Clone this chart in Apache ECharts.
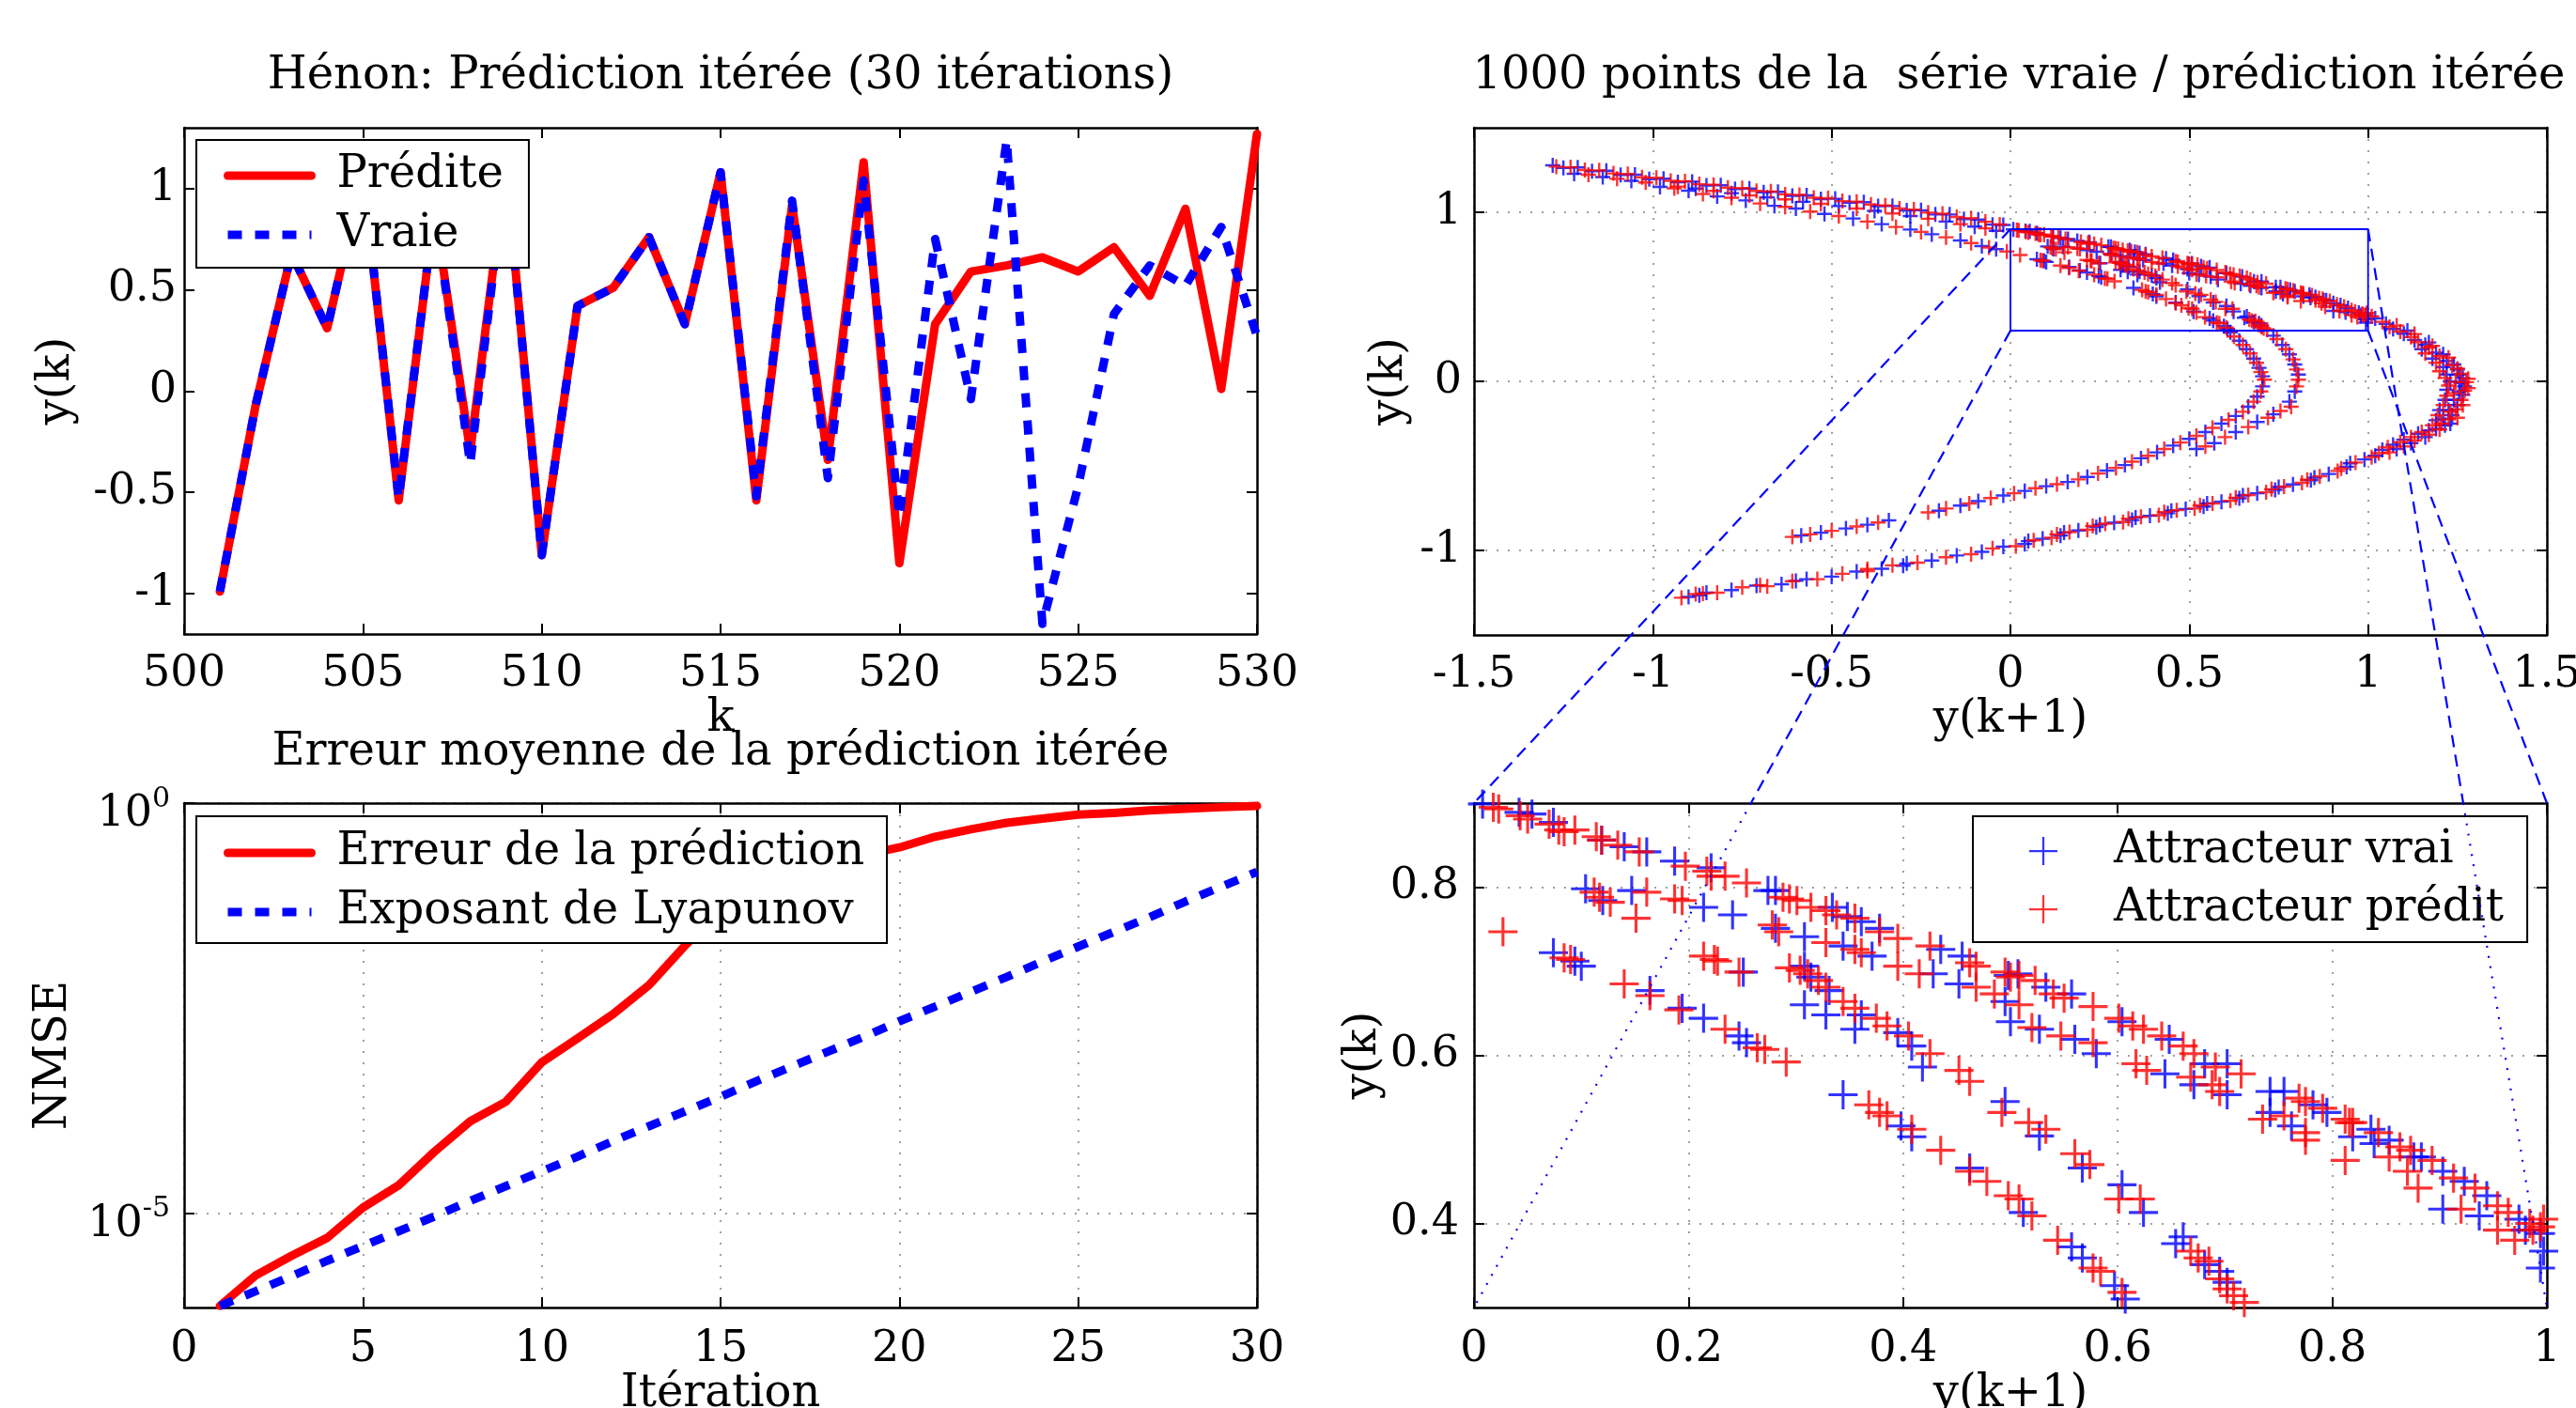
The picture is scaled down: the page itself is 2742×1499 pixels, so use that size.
<!DOCTYPE html>
<html><head><meta charset="utf-8">
<script src="https://cdn.jsdelivr.net/npm/echarts@6/dist/echarts.min.js"></script>
<style>html,body{margin:0;padding:0;background:#fff;overflow:hidden}#c{width:2742px;height:1499px}</style>
</head><body><div id="c"></div><script>
// ---------- data ----------
const kSteps = [501,502,503,504,505,506,507,508,509,510,511,512,513,514,515,516,517,518,519,520,521,522,523,524,525,526,527,528,529,530];
const yTrue = [-0.99,-0.07,0.68,0.31,1.08,-0.53,0.90,-0.36,1.10,-0.81,0.42,0.51,0.76,0.33,1.08,-0.52,0.94,-0.43,1.04,-0.62,0.75,-0.04,1.24,-1.15,-0.47,0.38,0.62,0.52,0.81,0.27];
const yPred = [-0.99,-0.07,0.68,0.31,1.08,-0.54,0.90,-0.30,1.11,-0.81,0.42,0.51,0.76,0.33,1.08,-0.54,0.92,-0.34,1.13,-0.85,0.33,0.59,0.62,0.66,0.59,0.71,0.47,0.90,0.01,1.27];
const tlYTicks = [-1,-0.5,0,0.5,1];

const iterations = [1,2,3,4,5,6,7,8,9,10,11,12,13,14,15,16,17,18,19,20,21,22,23,24,25,26,27,28,29,30];
const nmsePred = [7.4e-7,1.74e-6,3.02e-6,5.0e-6,1.17e-5,2.19e-5,5.62e-5,1.32e-4,2.29e-4,6.92e-4,1.35e-3,2.69e-3,6.03e-3,1.82e-2,5.0e-2,0.100,0.151,0.195,0.234,0.288,0.389,0.479,0.575,0.646,0.724,0.759,0.813,0.851,0.891,0.923];
const nmseLyap = [7.4e-7,1.12e-6,1.70e-6,2.63e-6,3.98e-6,6.03e-6,9.12e-6,1.41e-5,2.14e-5,3.24e-5,4.90e-5,7.59e-5,1.15e-4,1.74e-4,2.63e-4,4.07e-4,6.17e-4,9.33e-4,1.41e-3,2.19e-3,3.31e-3,5.01e-3,7.59e-3,1.17e-2,1.78e-2,2.69e-2,4.07e-2,6.31e-2,9.55e-2,0.145];
const nmseTickExps = [-5, 0];
const nmseMinExp = -6.15;

const attractorTrue = [
[-1.28,1.278],[-1.25,1.262],[-1.21,1.265],[-1.17,1.243],[-1.13,1.246],[-1.09,1.221],[-1.05,1.222],[-1.01,1.196],[-0.97,1.199],[-0.93,1.178],[-0.89,1.181],[-0.85,1.158],[-0.81,1.160],[-0.77,1.137],[-0.73,1.140],[-0.69,1.118],[-0.65,1.121],[-0.61,1.097],[-0.57,1.100],[-0.53,1.078],[-0.49,1.080],[-0.45,1.057],[-0.41,1.060],[-0.37,1.036],[-0.33,1.037],[-0.29,1.011],[-0.25,1.012],[-0.21,0.987],[-0.17,0.987],[-0.13,0.960],[-0.09,0.957],[-0.05,0.927],[-0.02,0.925],
[-1.22,1.228],[-1.14,1.208],[-1.06,1.186],[-0.88,1.140],[-0.78,1.113],[-0.68,1.088],[-0.58,1.062],[-0.48,1.037],[-0.38,1.008],[-0.28,0.978],[-0.18,0.945],[-0.10,0.915],[-0.04,0.890],
[-0.98,1.150],[-0.90,1.128],[-0.82,1.094],[-0.74,1.070],[-0.66,1.038],[-0.60,1.022],[-0.52,0.990],[-0.44,0.963],[-0.36,0.930],[-0.28,0.898],[-0.22,0.870],[-0.14,0.833],[-0.08,0.800],[-0.04,0.782],
[0.008,0.899],[0.042,0.889],[0.054,0.887],[0.074,0.877],[0.119,0.856],[0.140,0.848],[0.161,0.842],[0.187,0.831],[0.221,0.823],[0.274,0.796],[0.281,0.796],[0.334,0.776],[0.348,0.765],[0.361,0.759],[0.378,0.751],[0.435,0.726],[0.455,0.718],[0.498,0.695],[0.507,0.697],[0.533,0.681],[0.557,0.673],[0.604,0.640],[0.648,0.619],[0.681,0.590],[0.702,0.590],[0.742,0.557],[0.755,0.557],[0.782,0.541],[0.795,0.532],[0.836,0.512],[0.853,0.499],[0.883,0.479],[0.903,0.462],[0.923,0.450],[0.944,0.433],[0.974,0.405],[0.994,0.388],[0.997,0.367],[0.994,0.347],
[0.104,0.798],[0.120,0.784],[0.147,0.796],[0.214,0.776],[0.241,0.767],[0.281,0.751],[0.308,0.741],[0.344,0.730],[0.371,0.718],[0.428,0.697],[0.452,0.685],[0.495,0.664],[0.500,0.640],[0.527,0.631],[0.560,0.619],[0.580,0.602],[0.644,0.578],[0.671,0.565],[0.702,0.553],[0.742,0.532],[0.762,0.516],[0.819,0.503],[0.839,0.495],[0.876,0.479],[0.903,0.417],[0.937,0.409],[0.980,0.392],
[0.308,0.706],[0.314,0.693],[0.331,0.677],[0.361,0.648],[0.395,0.627],[0.408,0.611],[0.418,0.586],[0.495,0.545],[0.527,0.504],[0.567,0.466],[0.604,0.446],[0.624,0.413],
[0.308,0.660],[0.328,0.648],[0.355,0.631],
[0.344,0.553],[0.398,0.516],[0.408,0.503],[0.462,0.466],[0.512,0.413],[0.557,0.372],[0.567,0.359],[0.597,0.326],[0.607,0.310],
[0.654,0.376],[0.661,0.384],[0.681,0.351],[0.695,0.343],[0.702,0.330],
[0.074,0.722],[0.094,0.712],[0.100,0.706],[0.164,0.677],[0.194,0.656],[0.214,0.644],[0.247,0.623],[0.254,0.615],[0.251,0.699],
[0.615,0.290],[0.640,0.240],[0.660,0.190],[0.680,0.135],[0.695,0.080],[0.705,0.030],
[0.735,0.270],[0.760,0.215],[0.780,0.160],[0.795,0.100],[0.805,0.040],
[1.02,0.372],[1.05,0.340],[1.07,0.310],[1.10,0.282],[1.13,0.245],[1.16,0.215],[1.15,0.190],[1.19,0.170],[1.18,0.135],[1.22,0.120],[1.21,0.085],[1.25,0.070],[1.22,0.040],[1.265,0.020],[1.23,0.000],[1.27,-0.030],[1.22,-0.050],[1.265,-0.080],[1.215,-0.110],[1.25,-0.140],[1.20,-0.170],[1.235,-0.200],[1.19,-0.230],[1.215,-0.260],[1.17,-0.290],[1.14,-0.310],[1.10,-0.345],[1.07,-0.375],[1.04,-0.405],[1.02,-0.440],
[1.11,0.300],[1.17,0.230],[1.21,0.160],[1.24,0.100],[1.255,0.040],[1.26,-0.010],[1.255,-0.060],[1.24,-0.110],[1.225,-0.170],[1.21,-0.220],[1.23,-0.250],[1.19,-0.280],[1.16,-0.330],[1.12,-0.365],[1.08,-0.400],
[0.99,-0.462],[0.94,-0.505],[0.89,-0.548],[0.84,-0.585],[0.79,-0.610],[0.74,-0.642],[0.69,-0.662],[0.64,-0.692],[0.59,-0.712],[0.54,-0.740],[0.49,-0.755],[0.44,-0.780],[0.39,-0.795],[0.34,-0.820],[0.29,-0.836],[0.24,-0.862],[0.19,-0.882],[0.14,-0.912],[0.09,-0.931],[0.04,-0.962],[-0.02,-0.978],[-0.08,-1.008],[-0.15,-1.030],[-0.22,-1.060],[-0.29,-1.077],[-0.36,-1.108],[-0.43,-1.125],[-0.50,-1.155],[-0.57,-1.170],[-0.64,-1.200],[-0.71,-1.208],[-0.78,-1.235],[-0.85,-1.250],[-0.90,-1.275],
[0.95,-0.485],[0.85,-0.570],[0.75,-0.625],[0.65,-0.675],[0.55,-0.722],[0.45,-0.765],[0.35,-0.805],[0.25,-0.848],[0.15,-0.895],[0.05,-0.945],[-0.30,-1.090],[-0.60,-1.180],[-0.87,-1.265],
[0.705,-0.030],[0.690,-0.090],[0.665,-0.150],[0.630,-0.205],[0.590,-0.250],[0.545,-0.300],[0.500,-0.340],[0.455,-0.380],[0.410,-0.420],[0.365,-0.455],[0.320,-0.495],[0.270,-0.528],[0.215,-0.565],[0.160,-0.595],[0.100,-0.620],[0.040,-0.648],[-0.020,-0.675],[-0.090,-0.708],[-0.140,-0.735],[-0.200,-0.765],[-0.34,-0.822],[-0.40,-0.848],[-0.46,-0.870],[-0.53,-0.895],[-0.585,-0.912],
[0.795,-0.060],[0.780,-0.120],[0.735,-0.195],[0.690,-0.240],[0.630,-0.300],[0.570,-0.365],[0.520,-0.400]
];
const attractorPred = [
[-1.27,1.270],[-1.23,1.266],[-1.19,1.250],[-1.15,1.248],[-1.11,1.230],[-1.07,1.226],[-1.03,1.207],[-0.99,1.204],[-0.95,1.186],[-0.91,1.183],[-0.87,1.166],[-0.83,1.163],[-0.79,1.146],[-0.75,1.143],[-0.71,1.126],[-0.67,1.123],[-0.63,1.106],[-0.59,1.103],[-0.55,1.086],[-0.51,1.083],[-0.47,1.066],[-0.43,1.063],[-0.39,1.046],[-0.35,1.040],[-0.31,1.022],[-0.27,1.016],[-0.23,0.998],[-0.19,0.992],[-0.15,0.972],[-0.11,0.965],[-0.07,0.944],[-0.03,0.928],
[-1.18,1.222],[-1.10,1.198],[-1.02,1.176],[-0.93,1.152],[-0.83,1.126],[-0.73,1.100],[-0.63,1.076],[-0.53,1.050],[-0.43,1.022],[-0.33,0.993],[-0.23,0.962],[-0.14,0.930],[-0.07,0.905],
[-0.94,1.142],[-0.86,1.108],[-0.78,1.086],[-0.70,1.052],[-0.63,1.032],[-0.56,1.004],[-0.48,0.978],[-0.40,0.945],[-0.32,0.913],[-0.25,0.884],[-0.18,0.852],[-0.11,0.818],[-0.06,0.792],[-0.01,0.768],
[0.018,0.895],[0.023,0.893],[0.043,0.885],[0.050,0.881],[0.070,0.875],[0.079,0.868],[0.084,0.866],[0.094,0.868],[0.114,0.860],[0.119,0.856],[0.134,0.850],[0.154,0.842],[0.197,0.825],[0.217,0.819],[0.221,0.813],[0.234,0.813],[0.254,0.805],[0.288,0.788],[0.294,0.786],[0.301,0.784],[0.314,0.776],[0.328,0.772],[0.338,0.767],[0.355,0.763],[0.378,0.747],[0.395,0.739],[0.425,0.730],[0.462,0.710],[0.468,0.706],[0.495,0.699],[0.508,0.695],[0.500,0.693],[0.523,0.689],[0.540,0.673],[0.550,0.668],[0.577,0.658],[0.601,0.644],[0.614,0.635],[0.624,0.631],[0.641,0.623],[0.661,0.611],[0.671,0.602],[0.691,0.586],[0.715,0.578],[0.769,0.549],[0.775,0.545],[0.791,0.537],[0.812,0.524],[0.819,0.520],[0.843,0.508],[0.863,0.491],[0.873,0.487],[0.893,0.475],[0.913,0.454],[0.933,0.442],[0.954,0.421],[0.964,0.413],[0.984,0.400],[0.994,0.396],[0.997,0.405],
[0.112,0.794],[0.117,0.788],[0.127,0.782],[0.161,0.794],[0.151,0.763],[0.187,0.786],[0.194,0.784],[0.278,0.755],[0.284,0.747],[0.328,0.734],[0.355,0.726],[0.361,0.722],[0.395,0.706],[0.415,0.697],[0.468,0.681],[0.485,0.673],[0.508,0.660],[0.520,0.633],[0.547,0.623],[0.577,0.615],[0.617,0.590],[0.627,0.582],[0.668,0.574],[0.688,0.565],[0.695,0.557],[0.735,0.524],[0.755,0.528],[0.775,0.508],[0.775,0.499],[0.816,0.520],[0.812,0.475],[0.853,0.479],[0.870,0.462],[0.880,0.442],[0.920,0.417],[0.954,0.392],[0.970,0.380],[0.987,0.392],
[0.294,0.704],[0.304,0.701],[0.311,0.697],[0.321,0.689],[0.328,0.681],[0.344,0.664],[0.355,0.656],[0.375,0.644],[0.385,0.635],[0.405,0.623],[0.425,0.602],[0.452,0.582],[0.462,0.569],[0.492,0.532],[0.517,0.520],[0.533,0.512],[0.560,0.483],[0.574,0.470],[0.601,0.429],[0.621,0.429],
[0.368,0.541],[0.378,0.532],[0.385,0.528],[0.408,0.512],[0.435,0.487],[0.462,0.462],[0.478,0.450],[0.498,0.433],[0.508,0.429],[0.520,0.409],[0.544,0.380],[0.577,0.347],[0.584,0.343],[0.604,0.318],
[0.668,0.367],[0.675,0.359],[0.685,0.355],[0.695,0.334],[0.702,0.322],[0.708,0.314],[0.718,0.306],
[0.027,0.747],[0.084,0.716],[0.090,0.714],[0.140,0.685],[0.164,0.671],[0.191,0.654],[0.234,0.631],[0.264,0.609],[0.271,0.607],[0.291,0.592],[0.214,0.718],[0.224,0.714],[0.227,0.712],[0.247,0.699],
[0.625,0.265],[0.650,0.215],[0.670,0.165],[0.688,0.110],[0.700,0.055],
[0.745,0.250],[0.770,0.190],[0.790,0.130],[0.800,0.070],[0.805,0.010],
[1.01,0.385],[1.04,0.352],[1.06,0.322],[1.09,0.295],[1.12,0.262],[1.14,0.232],[1.17,0.200],[1.16,0.165],[1.20,0.150],[1.19,0.110],[1.235,0.095],[1.20,0.060],[1.26,0.045],[1.215,0.020],[1.275,-0.005],[1.225,-0.025],[1.27,-0.055],[1.22,-0.085],[1.26,-0.110],[1.21,-0.140],[1.245,-0.165],[1.195,-0.200],[1.225,-0.225],[1.18,-0.260],[1.20,-0.285],[1.15,-0.300],[1.12,-0.330],[1.09,-0.360],[1.055,-0.390],[1.03,-0.425],
[1.08,0.330],[1.13,0.280],[1.18,0.210],[1.225,0.140],[1.25,0.075],[1.28,0.015],[1.245,-0.005],[1.28,-0.040],[1.24,-0.070],[1.265,-0.140],[1.23,-0.180],[1.25,-0.215],[1.205,-0.250],[1.17,-0.315],[1.13,-0.350],[1.10,-0.385],[1.06,-0.420],
[1.01,-0.448],[0.965,-0.480],[0.915,-0.530],[0.865,-0.562],[0.815,-0.600],[0.765,-0.622],[0.715,-0.656],[0.665,-0.672],[0.615,-0.706],[0.565,-0.722],[0.515,-0.752],[0.465,-0.762],[0.415,-0.792],[0.365,-0.802],[0.315,-0.832],[0.265,-0.842],[0.215,-0.878],[0.165,-0.892],[0.115,-0.925],[0.065,-0.940],[0.015,-0.975],[-0.05,-0.988],[-0.11,-1.022],[-0.18,-1.040],[-0.26,-1.072],[-0.33,-1.088],[-0.40,-1.122],[-0.47,-1.138],[-0.54,-1.170],[-0.61,-1.182],[-0.68,-1.212],[-0.75,-1.218],[-0.82,-1.250],[-0.88,-1.258],[-0.92,-1.280],
[0.925,-0.515],[0.83,-0.582],[0.73,-0.638],[0.63,-0.688],[0.53,-0.733],[0.43,-0.774],[0.33,-0.812],[0.23,-0.855],[0.13,-0.905],[-0.40,-1.110],[-0.70,-1.205],[-0.86,-1.255],
[0.710,0.010],[0.700,-0.060],[0.680,-0.120],[0.650,-0.180],[0.610,-0.228],[0.565,-0.275],[0.520,-0.322],[0.475,-0.362],[0.430,-0.400],[0.385,-0.440],[0.340,-0.475],[0.295,-0.512],[0.245,-0.545],[0.190,-0.580],[0.130,-0.608],[0.070,-0.632],[0.010,-0.662],[-0.055,-0.690],[-0.115,-0.722],[-0.18,-0.752],[-0.23,-0.775],[-0.37,-0.835],[-0.43,-0.858],[-0.50,-0.884],[-0.56,-0.905],[-0.61,-0.920],
[0.800,-0.030],[0.785,-0.150],[0.755,-0.175],[0.720,-0.215],[0.665,-0.270],[0.600,-0.330],[0.545,-0.385]
];
const trYTicks = [-1,0,1];
const brYTicks = [0.4,0.6,0.8];
const zoomX = [0, 1];
const zoomY = [0.3, 0.9];

// ---------- style ----------
const FONT = 'DejaVu Serif';
const RED = '#ff0000', BLUE = '#0000ff', NONE = 'rgba(0,0,0,0)';
const PLUS_S = 'path://M-1,-0.15L1,-0.15L1,0.15L-1,0.15Z M-0.15,-1L0.15,-1L0.15,1L-0.15,1Z';
const PLUS_L = 'path://M-1,-0.1L1,-0.1L1,0.1L-1,0.1Z M-0.1,-1L0.1,-1L0.1,1L-0.1,1Z';
const PLUS_LEG = 'path://M-1,-0.075L1,-0.075L1,0.075L-1,0.075Z M-0.075,-1L0.075,-1L0.075,1L-0.075,1Z';

const gridBoxes = [
  {left:196, top:136, width:1142, height:539},
  {left:196, top:855, width:1142, height:537},
  {left:1569, top:136, width:1142, height:540},
  {left:1569, top:855, width:1142, height:537}
].map(g => Object.assign({containLabel:false, outerBoundsMode:'none'}, g));

function baseAxis(o) {
  const ax = {
    type:'value', gridIndex:o.grid, min:o.min, max:o.max, position:o.position,
    axisLine:{show:true, onZero:false, lineStyle:{color:'#000', width:2.5}},
    axisTick:{show:true, inside:true, length:11, lineStyle:{color:'#000', width:2}},
    axisLabel:{show:!o.mirror, color:'#000', fontFamily:FONT, fontSize:46, margin:o.margin||16, hideOverlap:false},
    splitLine:{show:!o.mirror && !!o.grid_lines, lineStyle:{color:'#808080', width:1.5, type:[2,10]}},
    name:o.mirror?'':(o.name||''), nameLocation:'middle', nameGap:o.nameGap||40,
    nameTextStyle:{color:'#000', fontFamily:FONT, fontSize:48}
  };
  if (o.interval != null) ax.interval = o.interval;
  if (o.ticks) { ax.axisTick.customValues = o.ticks; ax.axisLabel.customValues = o.ticks; }
  if (o.formatter) ax.axisLabel.formatter = o.formatter;
  if (o.rich) ax.axisLabel.rich = o.rich;
  return ax;
}

const xAxes = [], yAxes = [];
function addX(o){ xAxes.push(baseAxis(Object.assign({position:'bottom'},o))); xAxes.push(baseAxis(Object.assign({},o,{position:'top', mirror:true}))); }
function addY(o){ yAxes.push(baseAxis(Object.assign({position:'left'},o))); yAxes.push(baseAxis(Object.assign({},o,{position:'right', mirror:true}))); }

addX({grid:0, min:500, max:530, interval:5, name:'k', nameGap:64, margin:20});
addY({grid:0, min:-1.2, max:1.3, ticks:tlYTicks, name:'y(k)', nameGap:111, margin:8});
addX({grid:1, min:0, max:30, interval:5, name:'Itération', nameGap:68, margin:22, grid_lines:true});
addY({grid:1, min:nmseMinExp, max:0, ticks:nmseTickExps, name:'NMSE', nameGap:114, margin:15, grid_lines:true,
  formatter: v => '{b|10}{s|' + v + '}',
  rich:{ b:{fontFamily:FONT, fontSize:46, color:'#000', padding:[24,0,0,0]}, s:{fontFamily:FONT, fontSize:30, color:'#000', padding:[0,0,8,0]} }});
addX({grid:2, min:-1.5, max:1.5, interval:0.5, name:'y(k+1)', nameGap:64, margin:20, grid_lines:true});
addY({grid:2, min:-1.5, max:1.5, ticks:trYTicks, name:'y(k)', nameGap:65, margin:13, grid_lines:true});
addX({grid:3, min:0, max:1, interval:0.2, name:'y(k+1)', nameGap:68, margin:22, grid_lines:true});
addY({grid:3, min:0.3, max:0.9, ticks:brYTicks, name:'y(k)', nameGap:76, margin:16, grid_lines:true});

const legendText = {fontFamily:FONT, fontSize:48, color:'#000', lineHeight:52};

const option = {
  animation:false,
  backgroundColor:'#fff',
  title:[
    {text:'Hénon: Prédiction itérée (30 itérations)', left:767, top:58, textAlign:'center', padding:0, textStyle:{fontFamily:FONT, fontSize:48, fontWeight:'normal', color:'#000'}},
    {text:'1000 points de la  série vraie / prédiction itérée', left:2149, top:58, textAlign:'center', padding:0, textStyle:{fontFamily:FONT, fontSize:48, fontWeight:'normal', color:'#000'}},
    {text:'Erreur moyenne de la prédiction itérée', left:767, top:778, textAlign:'center', padding:0, textStyle:{fontFamily:FONT, fontSize:48, fontWeight:'normal', color:'#000'}}
  ],
  legend:[
    {data:['Prédite','Vraie'], left:209, top:149, orient:'vertical', selectedMode:false,
     itemWidth:89, itemHeight:20, itemGap:11, padding:[12,27,9,29],
     borderColor:'#000', borderWidth:2, backgroundColor:'#fff',
     itemStyle:{opacity:0}, lineStyle:{width:9},
     textStyle:Object.assign({padding:[0,0,0,22]}, legendText)},
    {data:['Erreur de la prédiction','Exposant de Lyapunov'], left:209, top:869, orient:'vertical', selectedMode:false,
     itemWidth:89, itemHeight:20, itemGap:11, padding:[13,24,7,29],
     borderColor:'#000', borderWidth:2, backgroundColor:'#fff',
     itemStyle:{opacity:0}, lineStyle:{width:9},
     textStyle:Object.assign({padding:[0,0,0,22]}, legendText)},
    {data:[{name:'Attracteur vrai', icon:PLUS_LEG},{name:'Attracteur prédit', icon:PLUS_LEG}], left:2100, top:869, orient:'vertical', selectedMode:false,
     itemWidth:30, itemHeight:30, itemGap:10, padding:[11,25,9,60],
     borderColor:'#000', borderWidth:2, backgroundColor:'#fff',
     textStyle:Object.assign({padding:[0,0,0,55]}, legendText)}
  ],
  grid: gridBoxes,
  xAxis: xAxes,
  yAxis: yAxes,
  series:[
    {name:'Prédite', type:'line', xAxisIndex:0, yAxisIndex:0, symbol:'none',
     data:kSteps.map((k,i)=>[k,yPred[i]]),
     lineStyle:{color:RED, width:9, cap:'round', join:'round'}, itemStyle:{color:NONE}},
    {name:'Vraie', type:'line', xAxisIndex:0, yAxisIndex:0, symbol:'none',
     data:kSteps.map((k,i)=>[k,yTrue[i]]),
     lineStyle:{color:BLUE, width:9, type:[15,14], cap:'butt', join:'round'}, itemStyle:{color:NONE}},
    {name:'Erreur de la prédiction', type:'line', xAxisIndex:2, yAxisIndex:2, symbol:'none',
     data:iterations.map((it,i)=>[it, Math.log10(nmsePred[i])]),
     lineStyle:{color:RED, width:9, cap:'round', join:'round'}, itemStyle:{color:NONE}},
    {name:'Exposant de Lyapunov', type:'line', xAxisIndex:2, yAxisIndex:2, symbol:'none',
     data:iterations.map((it,i)=>[it, Math.log10(nmseLyap[i])]),
     lineStyle:{color:BLUE, width:9, type:[15,14], cap:'butt'}, itemStyle:{color:NONE}},
    {name:'Attracteur vrai', type:'scatter', xAxisIndex:4, yAxisIndex:4, symbol:PLUS_S, symbolSize:16,
     data:attractorTrue, itemStyle:{color:BLUE}, clip:true},
    {name:'Attracteur prédit', type:'scatter', xAxisIndex:4, yAxisIndex:4, symbol:PLUS_S, symbolSize:16,
     data:attractorPred, itemStyle:{color:RED}, clip:true},
    {name:'zoomBox', type:'line', xAxisIndex:4, yAxisIndex:4, symbol:'none', z:5,
     data:[[zoomX[0],zoomY[1]],[zoomX[1],zoomY[1]],[zoomX[1],zoomY[0]],[zoomX[0],zoomY[0]],[zoomX[0],zoomY[1]]],
     lineStyle:{color:BLUE, width:1.8}},
    {name:'Attracteur vrai', type:'scatter', xAxisIndex:6, yAxisIndex:6, symbol:PLUS_L, symbolSize:31,
     data:attractorTrue, itemStyle:{color:BLUE}, clip:true},
    {name:'Attracteur prédit', type:'scatter', xAxisIndex:6, yAxisIndex:6, symbol:PLUS_L, symbolSize:31,
     data:attractorPred, itemStyle:{color:RED}, clip:true}
  ]
};

const chart = echarts.init(document.getElementById('c'), null, {renderer:'canvas'});
chart.setOption(option);

// connector lines between the zoom box and the zoomed panel
const px = (si, p) => chart.convertToPixel({seriesIndex:si}, p);
const aTL = px(4,[zoomX[0],zoomY[1]]), aBL = px(4,[zoomX[0],zoomY[0]]), aTR = px(4,[zoomX[1],zoomY[1]]), aBR = px(4,[zoomX[1],zoomY[0]]);
const bTL = px(7,[zoomX[0],zoomY[1]]), bBL = px(7,[zoomX[0],zoomY[0]]), bTR = px(7,[zoomX[1],zoomY[1]]), bBR = px(7,[zoomX[1],zoomY[0]]);
const cut = (a,b,y) => { const t=(y-a[1])/(b[1]-a[1]); return [a[0]+t*(b[0]-a[0]), y]; };
const m2 = cut(aBL,bBL,bTL[1]), m3 = cut(aTR,bBR,bTL[1]);
const dashed = {stroke:BLUE, lineWidth:2.2, lineDash:[13,8]};
const dotted = {stroke:BLUE, lineWidth:2.2, lineDash:[2,9]};
const seg = (a,b,st) => ({type:'line', z:100, silent:true, shape:{x1:a[0],y1:a[1],x2:b[0],y2:b[1]}, style:st});
chart.setOption({graphic:[
  seg(aTL,bTL,dashed),
  seg(aBL,m2,dashed), seg(m2,bBL,dotted),
  seg(aTR,m3,dashed), seg(m3,bBR,dotted),
  seg(aBR,bTR,dashed)
]});
</script></body></html>
